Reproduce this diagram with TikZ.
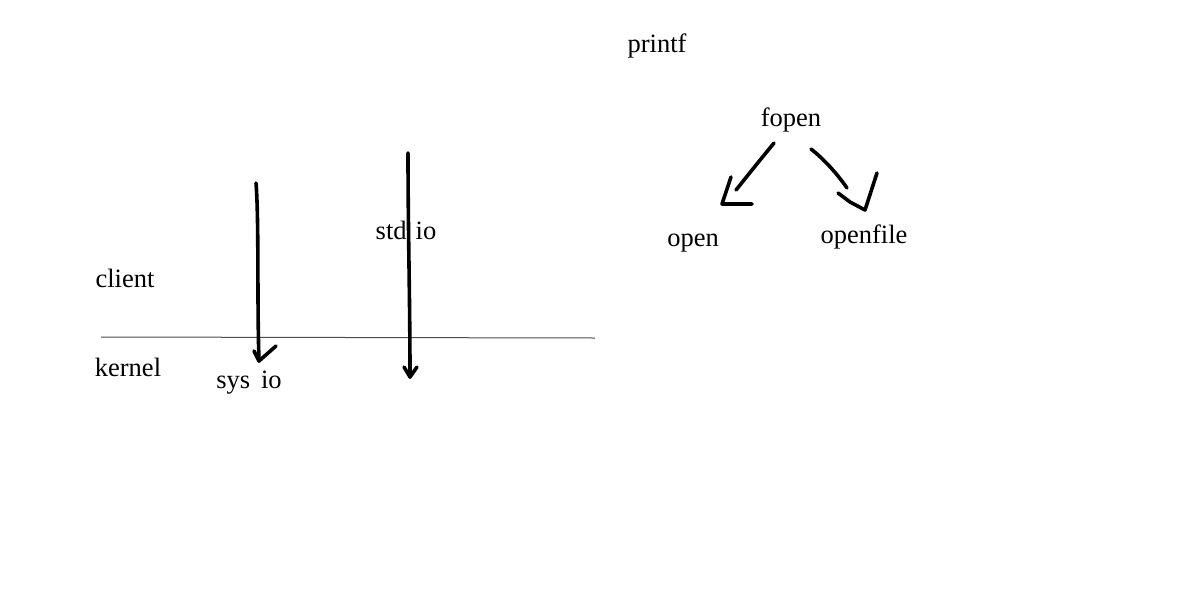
\documentclass[tikz,border=0pt]{standalone}
\usepackage{fontspec}
\setmainfont{Liberation Serif}
\begin{document}
\begin{tikzpicture}[x=1pt,y=-1pt,
  lbl/.style={font=\fontsize{26.5}{30}\selectfont, inner sep=0pt, anchor=base},
  pen/.style={line width=3.6pt, line cap=round, line join=round, black},
  thin/.style={line width=1pt, black!70}]
\useasboundingbox (0,0) rectangle (1178,600);
% labels
\node[lbl] (printf) at (657,52) {printf};
\node[lbl] (fopen) at (791,126) {fopen};
\node[lbl] (open) at (693,246) {open};
\node[lbl] (openfile) at (864,243) {openfile};
\node[lbl] (client) at (125,287) {client};
\node[lbl] (kernel) at (128,376) {kernel};
\node[lbl] (stdio) at (406,239) {std\hspace{9pt}io};
\node[lbl] (sysio) at (249,388) {sys\hspace{11pt}io};
% boundary line
\coordinate (bl) at (101,337);
\coordinate (br) at (595,338);
\draw[thin] (bl) -- (br);
% left vertical arrow
\coordinate (a1s) at (256,183);
\coordinate (a1t) at (259,361);
\draw[pen] (a1s) .. controls (259,220) and (257,300) .. (a1t);
\draw[pen] (254,351) -- (a1t) -- (276,346);
% right vertical arrow
\coordinate (a2s) at (408,153);
\coordinate (a2t) at (410,377);
\draw[pen] (a2s) .. controls (408,230) and (410,300) .. (a2t);
\draw[pen] (404,367) -- (a2t) -- (417,367);
% fopen -> open
\coordinate (b1s) at (774,143);
\coordinate (b1e) at (736,190);
\coordinate (b1t) at (722,204);
\draw[pen] (b1s) .. controls (760,160) and (748,175) .. (b1e);
\draw[pen] (731,177) -- (b1t) -- (752,204);
% fopen -> openfile
\coordinate (b2s) at (811,149);
\coordinate (b2e) at (847,188);
\coordinate (b2t) at (865,210);
\draw[pen] (b2s) .. controls (825,160) and (838,175) .. (b2e);
\draw[pen] (838,193) -- (850,202) -- (b2t) -- (877,173);
\end{tikzpicture}
\end{document}
